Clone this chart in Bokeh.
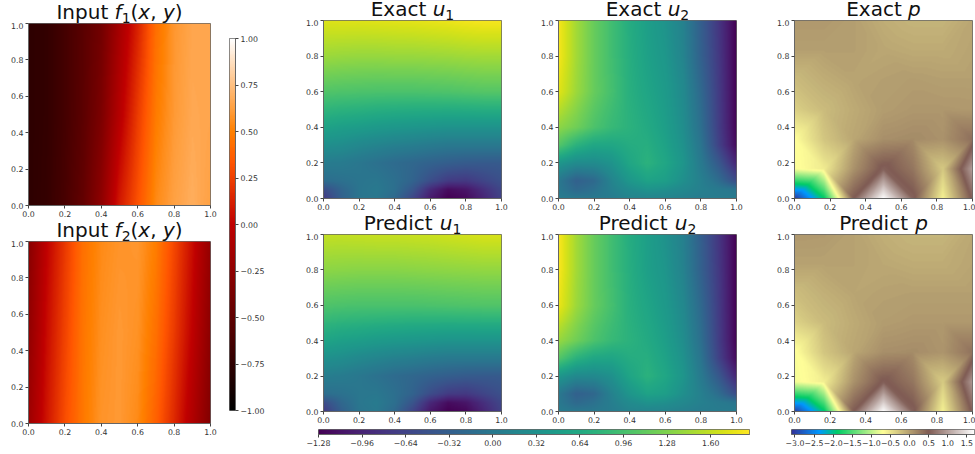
import numpy as np
from bokeh.core.properties import value
from bokeh.embed import file_html
from bokeh.resources import INLINE
from bokeh.layouts import row, column
from bokeh.models import Range1d, LinearColorMapper, FixedTicker
from bokeh.palettes import Viridis256
from bokeh.plotting import figure

# ---- data ----
F_X = [0, .1, .2, .3, .4, .5, .6, .7, .8, .9, 1]
F_Y = [0, .5, 1]
F1 = [
    [-.76, -.72, -.62, -.48, -.25, .10, .32, .54, .63, .68, .63],
    [-.76, -.73, -.64, -.52, -.35, -.05, .23, .48, .60, .66, .65],
    [-.76, -.73, -.64, -.53, -.40, -.13, .13, .43, .59, .65, .65],
]
F2 = [
    [-.18, .08, .30, .47, .58, .60, .54, .38, .16, -.08, -.32],
    [-.24, .04, .26, .46, .56, .60, .57, .44, .23, .00, -.27],
    [-.29, .00, .22, .44, .54, .58, .59, .49, .28, .05, -.22],
]
U_X = [0, .1, .2, .3, .4, .5, .6, .7, .8, .9, 1]
U_Y = [0, .05, .1, .2, .3, .4, .6, .8, 1]
EXACT_U1 = [
    [-.75, -.30, -.05, -.02, -.20, -.60, -1.05, -1.28, -1.20, -.95, -.65],
    [-.55, -.25, -.05, .00, -.12, -.42, -.90, -1.18, -1.10, -.85, -.60],
    [-.15, -.10, -.05, -.03, -.12, -.26, -.52, -.72, -.75, -.62, -.50],
    [.05, .03, -.03, -.10, -.17, -.22, -.28, -.33, -.37, -.38, -.38],
    [.30, .27, .20, .15, .10, .07, .03, .00, .00, .00, .00],
    [.55, .50, .47, .43, .40, .38, .36, .34, .34, .34, .34],
    [1.03, 1.01, 1.00, .99, .99, .99, 1.00, 1.01, 1.03, 1.05, 1.05],
    [1.42, 1.40, 1.39, 1.39, 1.40, 1.40, 1.41, 1.42, 1.44, 1.45, 1.45],
    [1.72, 1.73, 1.73, 1.74, 1.75, 1.76, 1.78, 1.80, 1.83, 1.85, 1.85],
]
PREDICT_U1 = [
    [-.75, -.32, -.05, .00, -.20, -.62, -1.08, -1.28, -1.22, -.95, -.66],
    [-.55, -.22, -.03, .02, -.12, -.44, -.92, -1.18, -1.10, -.85, -.60],
    [-.13, -.09, -.03, -.02, -.12, -.27, -.54, -.72, -.75, -.62, -.50],
    [.07, .04, -.02, -.09, -.17, -.22, -.28, -.33, -.37, -.38, -.38],
    [.32, .28, .21, .16, .11, .08, .04, .01, .01, .01, .01],
    [.58, .52, .49, .45, .42, .40, .38, .36, .36, .36, .36],
    [1.01, .99, .98, .98, .98, .98, .99, 1.00, 1.01, 1.02, 1.02],
    [1.34, 1.33, 1.32, 1.32, 1.32, 1.33, 1.34, 1.35, 1.36, 1.37, 1.37],
    [1.60, 1.60, 1.61, 1.62, 1.62, 1.63, 1.64, 1.66, 1.68, 1.70, 1.70],
]
EXACT_U2 = [
    [.05, .00, .00, .05, .15, .15, .15, .10, .05, .05, .05],
    [.00, -.20, -.10, .10, .25, .35, .30, .20, .10, .02, -.05],
    [.00, -.30, -.20, .15, .40, .55, .50, .30, .10, -.15, -.55],
    [.40, .25, .25, .35, .60, .75, .60, .38, .02, -.40, -.95],
    [1.05, .75, .60, .60, .68, .70, .55, .33, -.05, -.65, -1.20],
    [1.35, 1.20, 1.00, .85, .75, .65, .50, .28, -.12, -.70, -1.25],
    [1.75, 1.42, 1.15, .95, .72, .58, .45, .23, -.20, -.72, -1.27],
    [1.85, 1.45, 1.15, .92, .70, .53, .40, .15, -.30, -.75, -1.28],
    [1.85, 1.45, 1.15, .92, .68, .50, .35, .12, -.33, -.78, -1.28],
]
PREDICT_U2 = [
    [.05, .00, .00, .05, .14, .15, .14, .10, .05, .05, .05],
    [.00, -.20, -.10, .08, .24, .34, .30, .20, .10, .02, -.05],
    [.00, -.30, -.22, .12, .38, .55, .50, .30, .10, -.15, -.55],
    [.40, .22, .22, .32, .58, .75, .60, .38, .02, -.40, -.95],
    [1.05, .75, .60, .58, .68, .70, .55, .33, -.05, -.65, -1.20],
    [1.40, 1.20, 1.00, .85, .75, .65, .50, .28, -.12, -.70, -1.26],
    [1.80, 1.42, 1.15, .95, .72, .58, .43, .21, -.20, -.72, -1.28],
    [1.87, 1.45, 1.15, .92, .70, .51, .38, .13, -.30, -.75, -1.28],
    [1.87, 1.45, 1.15, .92, .68, .50, .33, .10, -.33, -.78, -1.28],
]
# p: nodes of a 7x7 mesh, rows from y=0 upward
EXACT_P = [
    [-3.05, -1.90, .50, 1.70, .55, -.60, .55],
    [-.72, -.55, .10, .55, .30, -.30, 1.00],
    [-.70, -.28, -.05, .12, .15, .10, .35],
    [-.35, -.20, -.08, .02, .06, .06, .05],
    [-.20, -.10, -.03, .00, .02, .00, .00],
    [.00, .00, .00, -.05, -.08, -.08, -.03],
    [.05, .05, .00, -.10, -.15, -.15, -.05],
]
PREDICT_P = [
    [-3.00, -1.95, .50, 1.70, .55, -.60, .55],
    [-.75, -.57, .10, .53, .30, -.32, .95],
    [-.72, -.28, -.05, .12, .14, .08, .33],
    [-.38, -.20, -.08, .02, .05, .05, .05],
    [-.22, -.12, -.04, -.01, .00, .00, .00],
    [-.02, -.02, -.02, -.06, -.09, -.09, -.04],
    [.05, .04, -.02, -.11, -.16, -.16, -.06],
]
AXIS_TICKS = [0, .2, .4, .6, .8, 1]
HEAT_LOW, HEAT_HIGH = -1.0, 1.0
HEAT_TICKS = [-1, -.75, -.5, -.25, 0, .25, .5, .75, 1]
HEAT_LABELS = ["\u22121.00", "\u22120.75", "\u22120.50", "\u22120.25", "0.00", "0.25", "0.50", "0.75", "1.00"]
U_LOW, U_HIGH = -1.28, 1.885
U_TICKS = [-1.28, -.96, -.64, -.32, 0, .32, .64, .96, 1.28, 1.6]
U_LABELS = ["\u22121.28", "\u22120.96", "\u22120.64", "\u22120.32", "0.00", "0.32", "0.64", "0.96", "1.28", "1.60"]
P_LOW, P_HIGH = -3.09, 1.70
P_TICKS = [-3, -2.5, -2, -1.5, -1, -.5, 0, .5, 1, 1.5]
P_LABELS = ["\u22123.0", "\u22122.5", "\u22122.0", "\u22121.5", "\u22121.0", "\u22120.5", "0.0", "0.5", "1.0", "1.5"]

R, I, S = "normal", "italic", 0.7
T_F1 = [("Input ", R, 0), ("f", I, 0), ("1", R, S), ("(", R, 0), ("x", I, 0), (", ", R, 0), ("y", I, 0), (")", R, 0)]
T_F2 = [("Input ", R, 0), ("f", I, 0), ("2", R, S), ("(", R, 0), ("x", I, 0), (", ", R, 0), ("y", I, 0), (")", R, 0)]
T_EU1 = [("Exact ", R, 0), ("u", I, 0), ("1", R, S)]
T_EU2 = [("Exact ", R, 0), ("u", I, 0), ("2", R, S)]
T_PU1 = [("Predict ", R, 0), ("u", I, 0), ("1", R, S)]
T_PU2 = [("Predict ", R, 0), ("u", I, 0), ("2", R, S)]
T_EP = [("Exact ", R, 0), ("p", I, 0)]
T_PP = [("Predict ", R, 0), ("p", I, 0)]

# ---- colour maps ----
def hexes(r, g, b):
    return ["#%02x%02x%02x" % (int(a * 255), int(c * 255), int(d * 255)) for a, c, d in zip(r, g, b)]

t = np.linspace(0, 1, 256)
GIST_HEAT = hexes(np.clip(1.5 * t, 0, 1), np.clip(2 * t - 1, 0, 1), np.clip(4 * t - 3, 0, 1))
st = [0, .15, .25, .5, .75, 1]
TERRAIN = hexes(np.interp(t, st, [.2, 0, 0, 1, .5, 1]),
                np.interp(t, st, [.2, .6, .8, 1, .36, 1]),
                np.interp(t, st, [.6, 1, .4, .6, .33, 1]))

# ---- resampling for shading ----
def shade_smooth(grid, xs, ys, n):
    g = np.array(grid, float)
    px = (np.arange(n) + .5) / n
    a = np.array([np.interp(px, xs, r) for r in g])
    return np.array([np.interp(px, ys, a[:, i]) for i in range(n)]).T

def shade_mesh(grid, n):
    g = np.array(grid, float)
    m = g.shape[0] - 1
    px = (np.arange(n) + .5) / n * m
    X, Y = np.meshgrid(px, px)
    c = np.minimum(X.astype(int), m - 1)
    r = np.minimum(Y.astype(int), m - 1)
    fx, fy = X - c, Y - r
    v00, v10, v01, v11 = g[r, c], g[r, c + 1], g[r + 1, c], g[r + 1, c + 1]
    up = np.where(fx >= fy, v00 + fx * (v10 - v00) + fy * (v11 - v10),
                  v00 + fy * (v01 - v00) + fx * (v11 - v01))
    dn = np.where(fx + fy <= 1, v00 + fx * (v10 - v00) + fy * (v01 - v00),
                  v11 + (1 - fx) * (v01 - v11) + (1 - fy) * (v10 - v11))
    return np.where((c + r) % 2 == 0, up, dn)

# ---- styling helpers ----
SPINE = "#666666"
TXT = "#333333"
TICK_PX = "7.8px"
ADV = {"E": .632, "x": .592, "a": .613, "c": .55, "t": .392, " ": .318, "u": .634, "P": .603, "r": .411,
       "e": .615, "d": .635, "i": .278, "p": .635, "n": .634, "I": .295, "f": .352, "y": .592, "(": .39,
       ")": .39, ",": .318, "1": .636, "2": .636}
SIZE = 20.0
UNDER = 4  # how far each title band runs on behind the panel below it

def style_axis(ax, ticks, labels=None):
    ax.ticker = FixedTicker(ticks=list(ticks))
    ax.major_label_overrides = {float(k): v for k, v in zip(ticks, labels)} if labels else {}
    ax.major_label_text_font = "DejaVu Sans"
    ax.major_label_text_font_size = TICK_PX
    ax.major_label_text_color = TXT
    ax.axis_line_color = SPINE
    ax.major_tick_line_color = "#444444"
    ax.major_tick_in = 0
    ax.major_tick_out = 3
    ax.major_label_standoff = 2
    ax.minor_tick_line_color = None

def strip(w, h, titles):
    """A text-only band above the panels. titles: (title pieces, frame left, frame width)."""
    s = figure(width=w, height=h + UNDER, x_range=Range1d(0, w), y_range=Range1d(0, h + UNDER),
               toolbar_location=None, output_backend="svg", frame_align=False,
               x_axis_location=None, y_axis_location=None, min_border=0)
    s.grid.visible = False
    s.outline_line_color = None
    for pieces, left, fw in titles:
        total = sum(ADV[ch] * (sc if sc else 1) for txt, sty, sc in pieces for ch in txt) * SIZE
        x = left + (fw - total) / 2
        for txt, sty, sc in pieces:
            fs = SIZE * (sc if sc else 1)
            # y of the text box's bottom edge inside the band
            y = 4.0 if sc else 2.1
            s.text(x=[x], y=[y], text=[txt], text_font=value("DejaVu Sans"), text_font_style=sty,
                   text_font_size=value("%.1fpx" % fs), text_color="#111111",
                   text_baseline="bottom", text_align="left")
            x += sum(ADV[ch] for ch in txt) * fs
    return s

def panel(data, mapper, box):
    left, w, h, fw, fh = box
    p = figure(width=w, height=h, x_range=Range1d(0, 1), y_range=Range1d(0, 1),
               toolbar_location=None, output_backend="svg", frame_align=False,
               border_fill_color=None, margin=(-UNDER, 0, 0, 0),
               min_border_left=left, min_border_right=w - left - fw,
               min_border_top=1, min_border_bottom=h - 1 - fh)
    p.grid.visible = False
    p.image(image=[data], x=0, y=0, dw=1, dh=1, color_mapper=mapper)
    p.outline_line_color = SPINE
    p.outline_line_width = 1
    labels = ["%.1f" % v for v in AXIS_TICKS]
    style_axis(p.xaxis[0], AXIS_TICKS, labels)
    style_axis(p.yaxis[0], AXIS_TICKS, labels)
    return p

def bar(mapper, low, high, ticks, labels, box, vertical):
    left, top, w, h, fw, fh = box
    vals = np.linspace(low, high, 256)
    img = vals.reshape(-1, 1) if vertical else vals.reshape(1, -1)
    xr = Range1d(0, 1) if vertical else Range1d(low, high)
    yr = Range1d(low, high) if vertical else Range1d(0, 1)
    p = figure(width=w, height=h, x_range=xr, y_range=yr, toolbar_location=None, output_backend="svg",
               y_axis_location="right", frame_align=False,
               min_border_left=left, min_border_right=w - left - fw,
               min_border_top=top, min_border_bottom=h - top - fh)
    p.grid.visible = False
    if vertical:
        p.image(image=[img], x=0, y=low, dw=1, dh=high - low, color_mapper=mapper)
        p.xaxis.visible = False
        style_axis(p.yaxis[0], ticks, labels)
    else:
        p.image(image=[img], x=low, y=0, dw=high - low, dh=1, color_mapper=mapper)
        p.yaxis.visible = False
        style_axis(p.xaxis[0], ticks, labels)
    p.outline_line_color = SPINE
    p.outline_line_width = 1
    return p

heat = LinearColorMapper(palette=GIST_HEAT, low=HEAT_LOW, high=HEAT_HIGH)
vir = LinearColorMapper(palette=Viridis256, low=U_LOW, high=U_HIGH)
ter = LinearColorMapper(palette=TERRAIN, low=P_LOW, high=P_HIGH)

# boxes: left border, fig width, fig height, frame width, frame height
f1 = panel(shade_smooth(F1, F_X, F_Y, 182), heat, (28, 220, 198, 182, 182))
f2 = panel(shade_smooth(F2, F_X, F_Y, 182), heat, (28, 220, 214, 182, 182))
cb = bar(heat, HEAT_LOW, HEAT_HIGH, HEAT_TICKS, HEAT_LABELS, (9, 38, 50, 454, 6, 372), True)

u1 = panel(shade_smooth(EXACT_U1, U_X, U_Y, 178), vir, (53, 265, 194, 178, 178))
u2 = panel(shade_smooth(EXACT_U2, U_X, U_Y, 178), vir, (23, 235, 194, 178, 178))
pu1 = panel(shade_smooth(PREDICT_U1, U_X, U_Y, 178), vir, (53, 265, 192, 178, 178))
pu2 = panel(shade_smooth(PREDICT_U2, U_X, U_Y, 178), vir, (23, 235, 192, 178, 178))
cbv = bar(vir, U_LOW, U_HIGH, U_TICKS, U_LABELS, (48, 4, 500, 29, 431, 5), False)

ep = panel(shade_mesh(EXACT_P, 178), ter, (24, 205, 194, 178, 178))
pp = panel(shade_mesh(PREDICT_P, 178), ter, (24, 205, 192, 178, 178))
cbt = bar(ter, P_LOW, P_HIGH, P_TICKS, P_LABELS, (21, 4, 205, 29, 183, 5), False)

root = row(column(strip(220, 22, [(T_F1, 28, 182)]), f1, strip(220, 20, [(T_F2, 28, 182)]), f2),
           cb,
           column(strip(500, 19, [(T_EU1, 53, 178), (T_EU2, 288, 178)]), row(u1, u2, margin=(-UNDER, 0, 0, 0)),
                  strip(500, 20, [(T_PU1, 53, 178), (T_PU2, 288, 178)]), row(pu1, pu2, margin=(-UNDER, 0, 0, 0)), cbv),
           column(strip(205, 19, [(T_EP, 24, 178)]), ep, strip(205, 20, [(T_PP, 24, 178)]), pp, cbt))
for r_ in (u1, u2, pu1, pu2):
    r_.margin = (0, 0, 0, 0)
open("out.html", "w").write(file_html(root, INLINE))
